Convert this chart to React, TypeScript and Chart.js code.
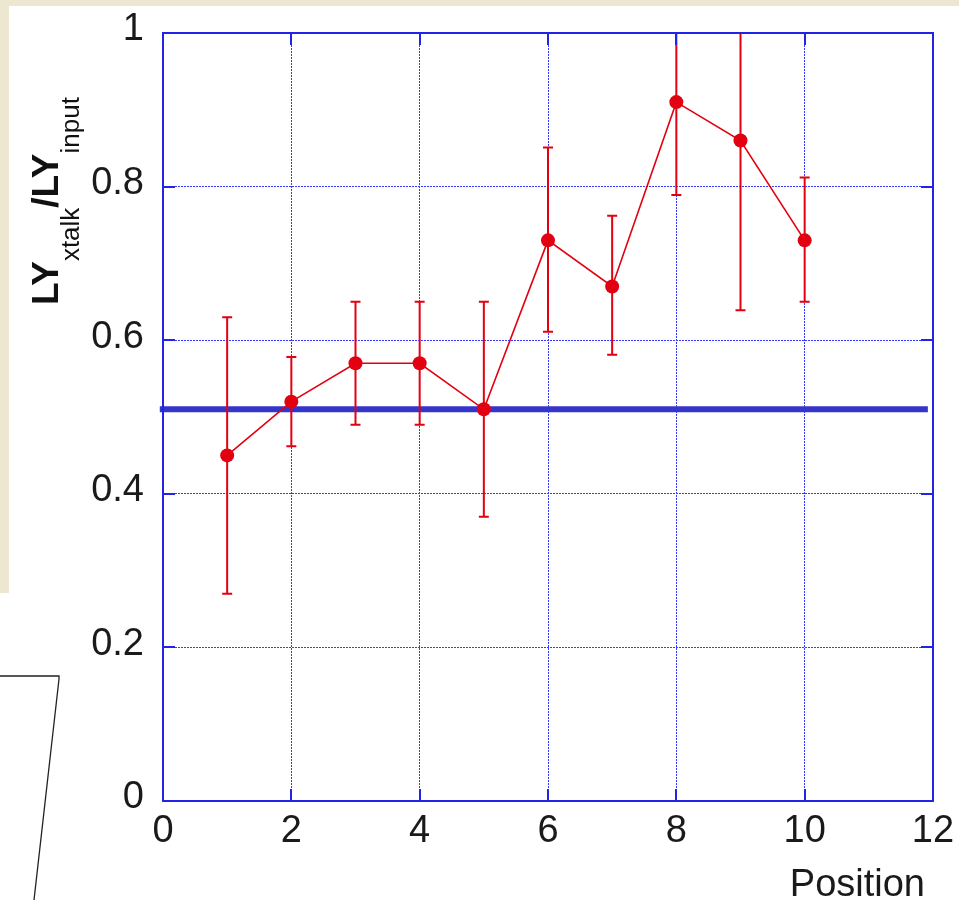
import React, { useEffect, useRef } from "react";
import { Chart, registerables } from "chart.js";

Chart.register(...registerables);

// ---- data ----
const positions = [1, 2, 3, 4, 5, 6, 7, 8, 9, 10];
const ratio = [0.45, 0.52, 0.57, 0.57, 0.51, 0.73, 0.67, 0.91, 0.86, 0.73];
const errLow = [0.27, 0.462, 0.49, 0.49, 0.37, 0.611, 0.581, 0.789, 0.639, 0.65];
const errHigh = [0.63, 0.578, 0.65, 0.65, 0.65, 0.851, 0.762, 1.05, 1.1, 0.812];
const refLevel = 0.51;
const refRange = [-0.05, 11.92];
const xTicks = [0, 2, 4, 6, 8, 10, 12];
const yTicks = [0, 0.2, 0.4, 0.6, 0.8, 1];

const FONT = '"Liberation Sans", Arial, Helvetica, sans-serif';
const BLUE = "#2323e6";
const GRID = "#3a3aff";
const RED = "#e30010";

const decorPlugin = {
  id: "decor",
  afterDatasetsDraw(chart: any) {
    const { ctx, chartArea, scales } = chart;
    const x = scales.x;
    const y = scales.y;
    // error bars
    ctx.save();
    ctx.beginPath();
    ctx.rect(chartArea.left, chartArea.top, chartArea.right - chartArea.left, chartArea.bottom - chartArea.top);
    ctx.clip();
    ctx.strokeStyle = RED;
    ctx.lineWidth = 2;
    positions.forEach((p, i) => {
      const px = x.getPixelForValue(p);
      const yl = y.getPixelForValue(errLow[i]);
      const yh = y.getPixelForValue(errHigh[i]);
      ctx.beginPath();
      ctx.moveTo(px, yl);
      ctx.lineTo(px, yh);
      ctx.moveTo(px - 5, yl);
      ctx.lineTo(px + 5, yl);
      ctx.moveTo(px - 5, yh);
      ctx.lineTo(px + 5, yh);
      ctx.stroke();
    });
    ctx.restore();

    // frame and inward ticks
    ctx.save();
    ctx.strokeStyle = BLUE;
    ctx.lineWidth = 2;
    const L = chartArea.left, R = chartArea.right, T = chartArea.top, B = chartArea.bottom;
    ctx.strokeRect(L, T, R - L, B - T);
    const tl = 12;
    ctx.beginPath();
    xTicks.slice(1, -1).forEach((v) => {
      const px = Math.round(x.getPixelForValue(v));
      ctx.moveTo(px, B);
      ctx.lineTo(px, B - tl);
      ctx.moveTo(px, T);
      ctx.lineTo(px, T + tl);
    });
    yTicks.slice(1, -1).forEach((v) => {
      const py = Math.round(y.getPixelForValue(v));
      ctx.moveTo(L, py);
      ctx.lineTo(L + tl, py);
      ctx.moveTo(R, py);
      ctx.lineTo(R - tl, py);
    });
    ctx.stroke();
    ctx.restore();
  },
  afterDraw(chart: any) {
    const { ctx, chartArea } = chart;
    // x title
    ctx.save();
    ctx.fillStyle = "#1a1a1a";
    ctx.font = `38px ${FONT}`;
    ctx.textAlign = "right";
    ctx.textBaseline = "alphabetic";
    ctx.fillText("Position", chartArea.right - 8, 896);
    ctx.restore();

    // y title: LY_xtalk / LY_input
    ctx.save();
    ctx.translate(58, 305);
    ctx.rotate(-Math.PI / 2);
    ctx.fillStyle = "#111";
    ctx.textBaseline = "alphabetic";
    ctx.textAlign = "left";
    const parts: [string, boolean][] = [
      ["LY", true],
      ["xtalk", false],
      ["/LY", true],
      ["input", false],
    ];
    let cx = 0;
    parts.forEach(([t, main]) => {
      ctx.font = main ? `bold 37px ${FONT}` : `26px ${FONT}`;
      ctx.fillText(t, cx, main ? 0 : 21);
      cx += ctx.measureText(t).width;
    });
    ctx.restore();
  },
};

export default function App() {
  const ref = useRef<HTMLCanvasElement>(null);
  useEffect(() => {
    const canvas = ref.current;
    if (!canvas) return;
    const chart = new Chart(canvas, {
      type: "scatter",
      data: {
        datasets: [
          {
            type: "line",
            label: "reference",
            data: refRange.map((v) => ({ x: v, y: refLevel })),
            borderColor: "#3535cc",
            borderWidth: 6,
            pointRadius: 0,
            showLine: true,
            clip: false,
            order: 2,
          } as any,
          {
            type: "line",
            label: "LY ratio",
            data: positions.map((p, i) => ({ x: p, y: ratio[i] })),
            borderColor: RED,
            borderWidth: 1.6,
            backgroundColor: RED,
            pointBackgroundColor: RED,
            pointBorderColor: RED,
            pointRadius: 7,
            pointBorderWidth: 0,
            showLine: true,
            order: 1,
          } as any,
        ],
      },
      options: {
        animation: false,
        responsive: false,
        devicePixelRatio: 1,
        layout: { padding: { top: 33, right: 26, left: 0, bottom: 0 } },
        plugins: { legend: { display: false }, tooltip: { enabled: false } },
        scales: {
          x: {
            type: "linear",
            min: 0,
            max: 12,
            afterBuildTicks: (s: any) => {
              s.ticks = xTicks.map((v) => ({ value: v }));
            },
            afterFit: (s: any) => {
              s.height = 99;
              s.paddingLeft = 0;
              s.paddingRight = 0;
            },
            grid: {
              color: GRID,
              lineWidth: 1,
              drawTicks: false,
              tickLength: 0,
            },
            border: { display: false, dash: [2, 1] },
            ticks: {
              color: "#1a1a1a",
              font: { family: FONT, size: 38 },
              padding: 8,
              maxRotation: 0,
              autoSkip: false,
              callback: (v: any) => String(v),
            },
          },
          y: {
            type: "linear",
            min: 0,
            max: 1,
            afterBuildTicks: (s: any) => {
              s.ticks = yTicks.map((v) => ({ value: v }));
            },
            afterFit: (s: any) => {
              s.width = 163;
              s.paddingTop = 0;
              s.paddingBottom = 0;
            },
            grid: {
              color: GRID,
              lineWidth: 1,
              drawTicks: false,
              tickLength: 0,
            },
            border: { display: false, dash: [2, 1] },
            ticks: {
              color: "#1a1a1a",
              font: { family: FONT, size: 38 },
              padding: 19,
              labelOffset: -3,
              autoSkip: false,
              callback: (v: any) => String(Math.round(v * 10) / 10),
            },
          },
        },
      },
      plugins: [decorPlugin],
    } as any);
    return () => chart.destroy();
  }, []);

  return (
    <div
      style={{
        position: "absolute",
        left: 0,
        top: 0,
        width: 959,
        height: 900,
        background: "#ffffff",
        overflow: "hidden",
      }}
    >
      <div style={{ position: "absolute", left: 0, top: 0, width: 959, height: 6, background: "#ede6d1" }} />
      <div style={{ position: "absolute", left: 0, top: 0, width: 9, height: 593, background: "#ede6d1" }} />
      <svg
        width={959}
        height={900}
        style={{ position: "absolute", left: 0, top: 0 }}
      >
        <polyline
          points="0,676 59,676 59,679 34,900"
          fill="none"
          stroke="#222"
          strokeWidth={1.3}
        />
      </svg>
      <canvas
        ref={ref}
        width={959}
        height={900}
        style={{ position: "absolute", left: 0, top: 0, width: 959, height: 900 }}
      />
    </div>
  );
}
